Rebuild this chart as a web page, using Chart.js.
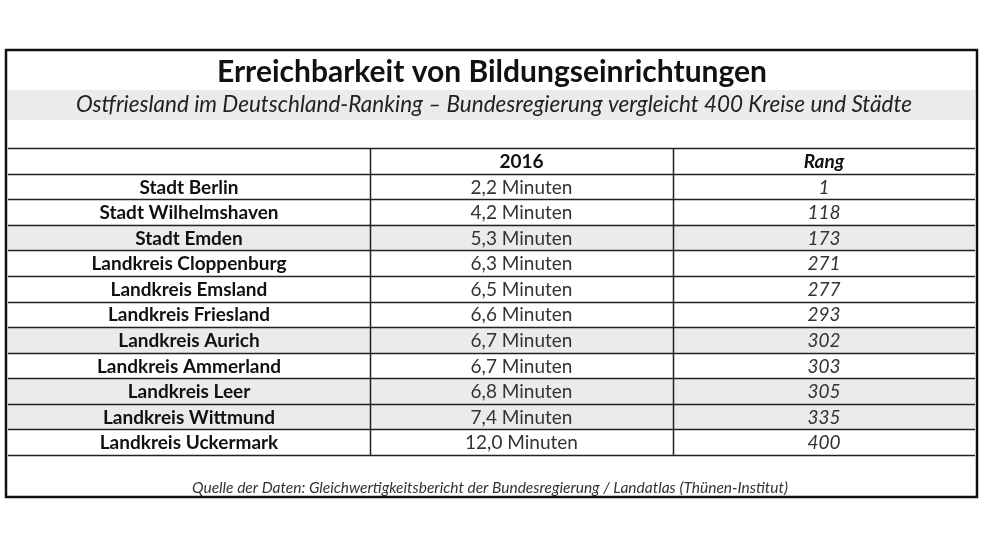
<!DOCTYPE html>
<html><head><meta charset="utf-8">
<script src="https://cdn.jsdelivr.net/npm/chart.js@4"></script>
<style>html,body{margin:0;padding:0;background:#fff}#w{width:983px;height:553px}</style>
</head><body><div id="w"><canvas id="c"></canvas></div>
<script>
const title = "Erreichbarkeit von Bildungseinrichtungen";
const subtitle = "Ostfriesland im Deutschland-Ranking – Bundesregierung vergleicht 400 Kreise und Städte";
const source = "Quelle der Daten: Gleichwertigkeitsbericht der Bundesregierung / Landatlas (Thünen-Institut)";
const headers = ["", "2016", "Rang"];
const regions = ["Stadt Berlin","Stadt Wilhelmshaven","Stadt Emden","Landkreis Cloppenburg","Landkreis Emsland","Landkreis Friesland","Landkreis Aurich","Landkreis Ammerland","Landkreis Leer","Landkreis Wittmund","Landkreis Uckermark"];
const minutes = [2.2,4.2,5.3,6.3,6.5,6.6,6.7,6.7,6.8,7.4,12.0];
const ranks = [1,118,173,271,277,293,302,303,305,335,400];
const shaded = [false,false,true,false,false,false,true,false,true,true,false];
const colEdges = [0, 1.123, 2.063, 3];

const rows = ["header", ...regions];
const FONT = "Lato, 'Open Sans', sans-serif";
const fmt = v => v.toFixed(1).replace('.', ',') + " Minuten";

const tablePlugin = {
  id: 'table',
  beforeDatasetsDraw(chart) {
    const ctx = chart.ctx;
    ctx.save();
    ctx.fillStyle = '#ebebeb';
    ctx.fillRect(8, 90, 967, 30);
    ctx.restore();
  },
  afterDatasetsDraw(chart) {
    const ctx = chart.ctx, x = chart.scales.x, y = chart.scales.y, a = chart.chartArea;
    ctx.save();
    ctx.fillStyle = '#111';
    ctx.textAlign = 'center'; ctx.textBaseline = 'middle';
    ctx.font = "bold 30px " + FONT;
    ctx.fillText(title, 492, 72);
    ctx.font = "italic 22.5px " + FONT;
    ctx.fillStyle = '#222';
    ctx.fillText(subtitle, 494, 105);
    ctx.font = "italic 15.5px " + FONT;
    ctx.fillStyle = '#333';
    ctx.fillText(source, 490, 488);
    const cx = i => (x.getPixelForValue(colEdges[i]) + x.getPixelForValue(colEdges[i+1])) / 2;
    rows.forEach((r, i) => {
      const py = y.getPixelForValue(i) + 1;
      ctx.fillStyle = '#111';
      if (i === 0) {
        ctx.font = "bold 19px " + FONT; ctx.fillText(headers[1], cx(1), py);
        ctx.font = "italic bold 19px " + FONT; ctx.fillText(headers[2], cx(2), py);
      } else {
        ctx.font = "bold 19px " + FONT; ctx.fillText(regions[i-1], cx(0), py);
        ctx.fillStyle = '#333';
        ctx.font = "19px " + FONT; ctx.fillText(fmt(minutes[i-1]), cx(1), py);
        ctx.font = "italic 19px " + FONT; ctx.fillText(String(ranks[i-1]), cx(2), py);
      }
    });
    ctx.strokeStyle = '#222'; ctx.lineWidth = 1.5;
    for (let i = 0; i <= rows.length; i++) {
      const py = Math.round(y.getPixelForValue(i - 0.5)) + 0.5;
      ctx.beginPath(); ctx.moveTo(a.left, py); ctx.lineTo(a.right, py); ctx.stroke();
    }
    [1, 2].forEach(k => {
      const px = Math.round(x.getPixelForValue(colEdges[k])) + 0.5;
      ctx.beginPath(); ctx.moveTo(px, a.top); ctx.lineTo(px, a.bottom); ctx.stroke();
    });
    ctx.lineWidth = 2.5; ctx.strokeStyle = '#111';
    ctx.strokeRect(6, 50, 971, 447);
    ctx.restore();
  }
};

new Chart(document.getElementById('c'), {
  type: 'bar',
  data: {
    labels: rows,
    datasets: [{
      data: rows.map((r, i) => (i > 0 && shaded[i-1]) ? [colEdges[0], colEdges[3]] : null),
      backgroundColor: '#ebebeb', borderWidth: 0,
      barPercentage: 1, categoryPercentage: 1
    }]
  },
  options: {
    indexAxis: 'y', responsive: true, maintainAspectRatio: false, animation: false,
    layout: { padding: { left: 8, right: 8, top: 148, bottom: 98 } },
    plugins: { legend: { display: false }, tooltip: { enabled: false } },
    scales: {
      x: { type: 'linear', min: 0, max: 3, display: false },
      y: { type: 'category', display: false, offset: true }
    }
  },
  plugins: [tablePlugin]
});
</script></body></html>
